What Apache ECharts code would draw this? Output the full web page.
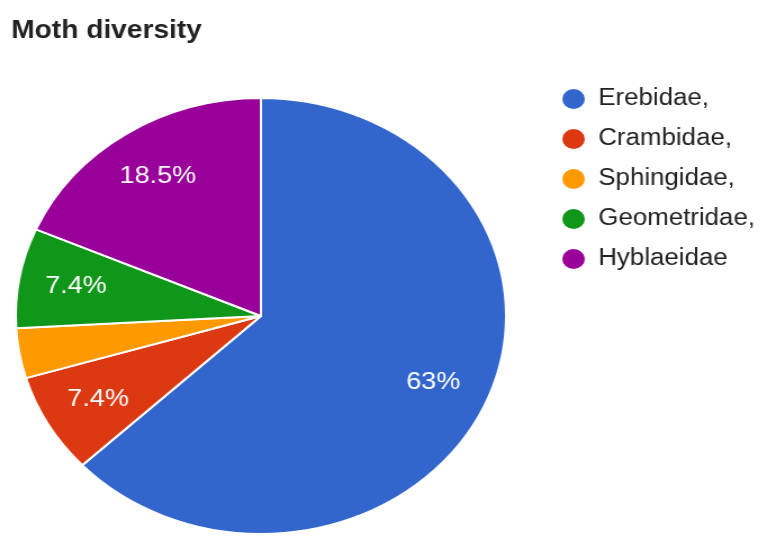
<!DOCTYPE html>
<html>
<head>
<meta charset="utf-8">
<script src="https://cdn.jsdelivr.net/npm/echarts@6/dist/echarts.min.js"></script>
<style>
html, body { margin: 0; padding: 0; background: #fff; overflow: hidden; }
/* the source picture is stretched sideways, so the chart is too */
#chart { width: 682px; height: 538px; transform: scaleX(1.1246); transform-origin: 0 0; }
</style>
</head>
<body>
<div id="chart"></div>
<script>
var families = ['Erebidae,', 'Crambidae,', 'Sphingidae,', 'Geometridae,', 'Hyblaeidae'];
var shares = [63, 7.4, 3.7, 7.4, 18.5];
var colors = ['#3366cc', '#dc3912', '#ff9900', '#109618', '#990099'];

var sliceData = families.map(function (name, i) {
    return { name: name, value: shares[i], itemStyle: { color: colors[i] } };
});
var labelData = families.map(function (name, i) {
    return { name: name, value: shares[i] };
});

var mychart = echarts.init(document.getElementById('chart'));
var option = {
    animation: false,
    title: {
        text: 'Moth diversity',
        left: 5,
        top: 14,
        textStyle: {
            color: '#222',
            fontSize: 25,
            fontWeight: 'bold',
            fontFamily: 'Liberation Sans'
        }
    },
    legend: {
        orient: 'vertical',
        left: 493,
        top: 82,
        icon: 'circle',
        itemWidth: 22,
        itemHeight: 22,
        itemGap: 16,
        data: families,
        textStyle: {
            color: '#222',
            fontSize: 23,
            fontFamily: 'Liberation Sans',
            padding: [0, 0, 0, 6]
        }
    },
    series: [
        {
            name: 'slices',
            type: 'pie',
            center: [232, 316],
            radius: [0, 218],
            startAngle: 90,
            clockwise: true,
            data: sliceData,
            label: { show: false },
            labelLine: { show: false },
            itemStyle: {
                borderColor: '#fff',
                borderWidth: 2
            },
            emphasis: { disabled: true }
        },
        {
            // only carries the labels, placed at 3/4 of the radius
            name: 'labels',
            type: 'pie',
            silent: true,
            center: [232, 316],
            radius: [110, 218],
            startAngle: 90,
            clockwise: true,
            data: labelData,
            itemStyle: { color: 'rgba(0,0,0,0)', borderWidth: 0 },
            label: {
                show: true,
                position: 'inside',
                color: '#fff',
                fontSize: 24,
                fontFamily: 'Liberation Sans',
                formatter: function (p) {
                    return p.value < 5 ? '' : p.value + '%';
                }
            },
            labelLine: { show: false },
            emphasis: { disabled: true }
        }
    ]
};
mychart.setOption(option);
</script>
</body>
</html>
